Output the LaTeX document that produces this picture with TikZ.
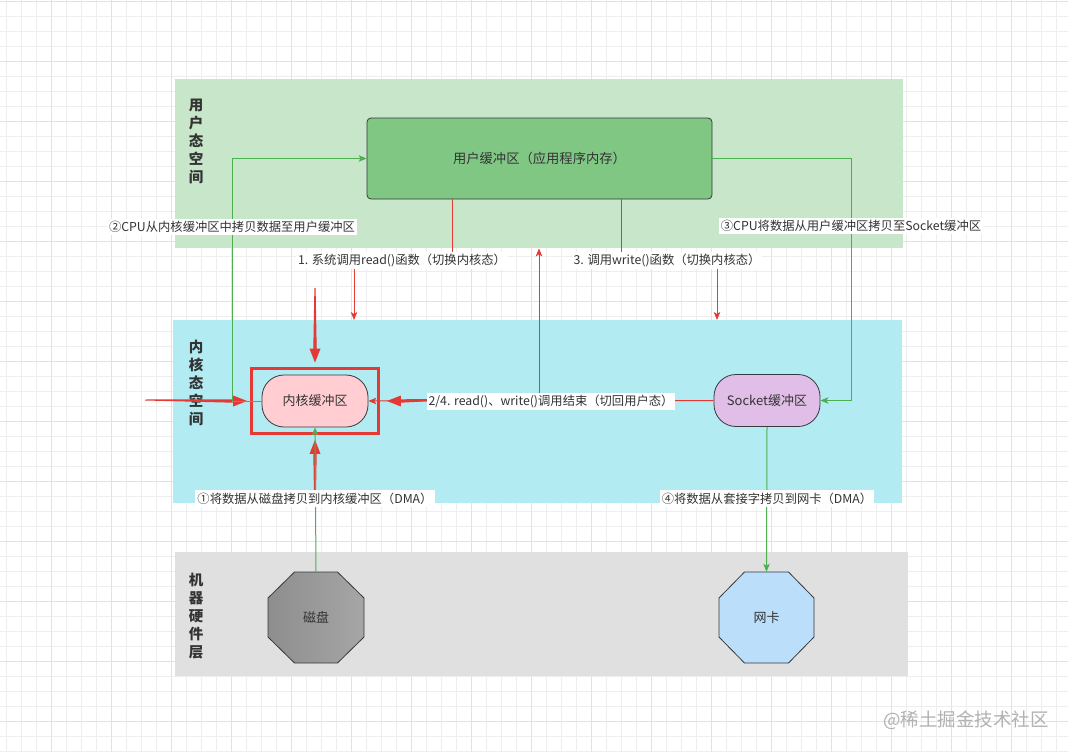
\documentclass[tikz,border=0pt]{standalone}
\usepackage{fontspec}
\setmainfont{Noto Sans CJK SC}
\usetikzlibrary{arrows.meta,fit,calc}
\definecolor{uspc}{HTML}{C8E6C9}
\definecolor{kspc}{HTML}{B2EBF2}
\definecolor{hspc}{HTML}{E0E0E0}
\definecolor{ubufc}{HTML}{81C784}
\definecolor{kbufc}{HTML}{FFCDD2}
\definecolor{sbufc}{HTML}{E1BEE7}
\definecolor{nicc}{HTML}{BBDEFB}
\definecolor{diskl}{HTML}{8E8E8E}
\definecolor{diskr}{HTML}{A6A6A6}
\definecolor{redc}{HTML}{E53935}
\definecolor{greenc}{HTML}{4CAF50}
\definecolor{txtc}{HTML}{333333}
\definecolor{strokec}{HTML}{36393D}
\definecolor{gridmin}{HTML}{EEEEEE}
\definecolor{gridmaj}{HTML}{E2E2E2}
\definecolor{wmc}{HTML}{B2B2B2}
\begin{document}
\begin{tikzpicture}[x=1pt,y=-1pt,
  region/.style={draw=none,inner sep=0pt,anchor=north west},
  titletxt/.style={font=\bfseries\fontsize{14.5}{18.2}\selectfont,text=txtc,align=center,inner sep=0pt},
  buf/.style={draw=strokec,line width=0.8pt,rounded corners=22pt,minimum width=106pt,minimum height=52pt,inner sep=0pt,font=\fontsize{13}{15}\selectfont,text=txtc},
  octo/.style={draw=strokec,line width=0.8pt},
  octnode/.style={minimum width=96pt,minimum height=91pt,inner sep=0pt,font=\fontsize{13}{15}\selectfont,text=txtc},
  redthin/.style={draw=redc,line width=1pt,-{Stealth[length=8pt,width=6.5pt,inset=2pt]}},
  greenline/.style={draw=greenc,line width=1pt,-{Stealth[length=8pt,width=6.5pt,inset=2pt]}},
  lbl/.style={fill=white,inner xsep=2pt,inner ysep=2.5pt,font=\fontsize{12.3}{14}\selectfont,text=txtc},
  hlbox/.style={draw=redc,line width=3pt,inner xsep=10pt,inner ysep=6pt},
  thickred/.style={fill=redc}
]
\useasboundingbox (0,0) rectangle (1068,752);
\fill[white] (0,0) rectangle (1068,752);
% grid
\foreach \x in {6.7,21.7,...,1068} \draw[gridmin,line width=0.8pt] (\x,0) -- (\x,752);
\foreach \y in {1.7,16.7,...,752} \draw[gridmin,line width=0.8pt] (0,\y) -- (1068,\y);
\foreach \x in {51.7,111.7,...,1068} \draw[gridmaj,line width=0.9pt] (\x,0) -- (\x,752);
\foreach \y in {1.7,61.7,...,752} \draw[gridmaj,line width=0.9pt] (0,\y) -- (1068,\y);

% regions
\node[region,fill=uspc,minimum width=728pt,minimum height=169pt] (uspace) at (175,79) {};
\node[region,fill=kspc,minimum width=729pt,minimum height=183pt] (kspace) at (173,320) {};
\node[region,fill=hspc,minimum width=733pt,minimum height=124pt] (hspace) at (175,552) {};

% titles
\node[titletxt] (t1) at (196,141.5) {用\\户\\态\\空\\间};
\node[titletxt] (t2) at (196,383) {内\\核\\态\\空\\间};
\node[titletxt] (t3) at (196,616) {机\\器\\硬\\件\\层};

% buffers
\node[draw=strokec,line width=0.8pt,fill=ubufc,rounded corners=4pt,minimum width=345pt,minimum height=81pt,inner sep=0pt,font=\fontsize{13.3}{15}\selectfont,text=txtc] (ubuf) at (539.5,158.5) {用户缓冲区（应用程序内存）};
\node[buf,fill=kbufc] (kbuf) at (315,401) {内核缓冲区};
\node[buf,fill=sbufc] (sbuf) at (767,400.5) {Socket缓冲区};

% octagons
\coordinate (diskc) at (316,617.5);
\coordinate (nicc) at (766.5,617.5);
\path[octo,left color=diskl,right color=diskr] (diskc) +(-21.5,-45.5) -- +(21.5,-45.5) -- +(48,-19.5) -- +(48,19.5) -- +(21.5,45.5) -- +(-21.5,45.5) -- +(-48,19.5) -- +(-48,-19.5) -- cycle;
\path[octo,fill=nicc] (nicc) +(-22,-45.5) -- +(22,-45.5) -- +(47.5,-19.5) -- +(47.5,19.5) -- +(22,45.5) -- +(-22,45.5) -- +(-47.5,19.5) -- +(-47.5,-19.5) -- cycle;
\node[octnode] (disk) at (diskc) {磁盘};
\node[octnode] (nic) at (nicc) {网卡};

% highlight box
\node[hlbox,fit=(kbuf)] (hl) {};

% thick tapered red arrows
\coordinate (ta) at (315,288);
\coordinate (tt) at ([yshift=4.5pt]hl.north);
\fill[thickred] ($(ta)+(-0.6,0)$) -- ($(tt)+(-1.7,-14)$) -- ($(tt)+(-5.5,-14)$) -- (tt) -- ($(tt)+(5.5,-14)$) -- ($(tt)+(1.7,-14)$) -- ($(ta)+(0.6,0)$) -- cycle;
\coordinate (ba) at (315,494);
\coordinate (bt) at ([yshift=-5pt]hl.south);
\fill[thickred] ($(ba)+(-1,0)$) -- ($(bt)+(-1.7,14)$) -- ($(bt)+(-5.5,14)$) -- (bt) -- ($(bt)+(5.5,14)$) -- ($(bt)+(1.7,14)$) -- ($(ba)+(1,0)$) -- cycle;
\coordinate (la) at (145,400);
\coordinate (lt) at ([xshift=-3pt]hl.west);
\fill[thickred] ($(la)+(0,-0.5)$) -- ($(lt)+(-14,-1.7)$) -- ($(lt)+(-14,-5.5)$) -- (lt) -- ($(lt)+(-14,5.5)$) -- ($(lt)+(-14,1.7)$) -- ($(la)+(0,0.5)$) -- cycle;
\coordinate (ra) at (432,400);
\coordinate (rt) at ([xshift=7pt]hl.east);
\fill[thickred] ($(ra)+(0,-1)$) -- ($(rt)+(14,-1.7)$) -- ($(rt)+(14,-5.5)$) -- (rt) -- ($(rt)+(14,5.5)$) -- ($(rt)+(14,1.7)$) -- ($(ra)+(0,1)$) -- cycle;

% connectors
\draw[greenline] (kbuf.west) -- (232,0 |- kbuf.west) |- (ubuf.west);
\draw[redthin] (452,0 |- ubuf.south) |- (354,260) -- (354,0 |- kspace.north);
\draw[redthin] (621,0 |- ubuf.south) |- (717,260) -- (717,0 |- kspace.north);
\draw[redthin] (sbuf.west) -- (kbuf.east);
\coordinate (up24) at (539,395);
\draw[redthin] (up24) -- (539,0 |- uspace.south);
\draw[greenline] (ubuf.east) -- (851,0 |- ubuf.east) |- (sbuf.east);
\draw[greenline] (sbuf.south) -- (nic.north);
\draw[greenline] (disk.north) -- (kbuf.south);

% labels
\node[lbl] (l2) at (232,227) {②CPU从内核缓冲区中拷贝数据至用户缓冲区};
\node[lbl] (l1) at (402,260.5) {1. 系统调用read()函数（切换内核态）};
\node[lbl] (l3) at (667,260.5) {3. 调用write()函数（切换内核态）};
\node[lbl] (l3b) at (851,226) {③CPU将数据从用户缓冲区拷贝至Socket缓冲区};
\node[lbl] (l24) at (551,401.5) {2/4. read()、write()调用结束（切回用户态）};
\node[lbl] (l1b) at (315,498.5) {①将数据从磁盘拷贝到内核缓冲区（DMA）};
\node[lbl] (l4) at (767,498.5) {④将数据从套接字拷贝到网卡（DMA）};

% watermark
\node[font=\fontsize{18.5}{20}\selectfont,text=wmc,inner sep=0pt] (wm) at (966,720) {@稀土掘金技术社区};
\end{tikzpicture}
\end{document}
